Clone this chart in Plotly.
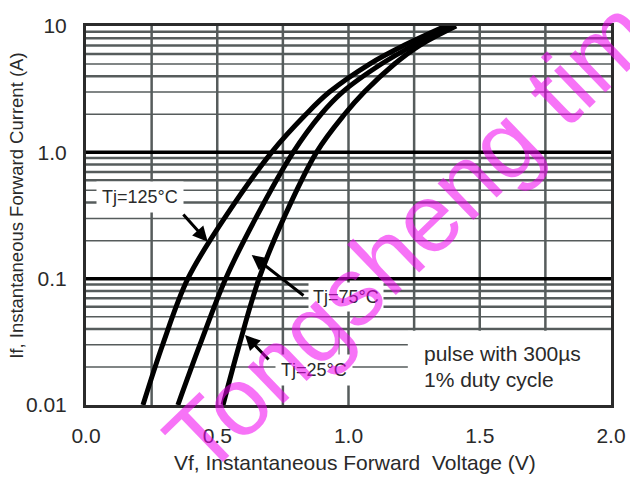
import math
import plotly.graph_objects as go

# ---------------- data ----------------
i_levels = [0.01, 0.03, 0.1, 0.3, 1.0, 2.0, 3.0, 5.0, 7.0, 10.0]
v_tj125 = [0.217, 0.292, 0.388, 0.527, 0.707, 0.838, 0.927, 1.080, 1.210, 1.370]
v_tj75 = [0.350, 0.434, 0.532, 0.646, 0.789, 0.895, 0.977, 1.125, 1.245, 1.390]
v_tj25 = [0.522, 0.584, 0.659, 0.753, 0.878, 0.985, 1.060, 1.175, 1.270, 1.410]

x_tick_vals = [0.0, 0.5, 1.0, 1.5, 2.0]
x_tick_text = ["0.0", "0.5", "1.0", "1.5", "2.0"]
y_tick_vals = [0.01, 0.1, 1.0, 10.0]
y_tick_text = ["0.01", "0.1", "1.0", "10"]

x_grid = [0.25, 0.5, 0.75, 1.0, 1.25, 1.5, 1.75]
decades = [0.01, 0.1, 1.0]
minor_mult = [2, 3, 4, 5, 6, 7, 8, 9]
thin_mult = [2, 3, 5]
major_lines = [0.1, 1.0]

FONT = "Liberation Sans, Arial, sans-serif"
TXT = "#2a2a2a"
GRID = "#565c5c"

def ypaper(v):
    return (math.log10(v) + 2.0) / 3.0

fig = go.Figure()

for vv in [v_tj125, v_tj75, v_tj25]:
    fig.add_trace(go.Scatter(
        x=vv, y=i_levels, mode="lines",
        line=dict(color="black", width=5, shape="spline", smoothing=1.0),
        showlegend=False, hoverinfo="skip"))

shapes = []
for xv in x_grid:
    shapes.append(dict(type="line", xref="x", yref="paper", x0=xv, x1=xv, y0=0, y1=1,
                       line=dict(color=GRID, width=2.5), layer="below"))
for d in decades:
    for m in minor_mult:
        v = d * m
        w = 1.5 if m in thin_mult else 2.5
        shapes.append(dict(type="line", xref="paper", yref="paper", x0=0, x1=1,
                           y0=ypaper(v), y1=ypaper(v),
                           line=dict(color=GRID, width=w), layer="below"))
for v in major_lines:
    shapes.append(dict(type="line", xref="paper", yref="paper", x0=0, x1=1,
                       y0=ypaper(v), y1=ypaper(v),
                       line=dict(color="black", width=3.5), layer="below"))
shapes.append(dict(type="rect", xref="x", yref="paper", x0=1.226, x1=2.0,
                   y0=0, y1=ypaper(0.0387), fillcolor="white",
                   line=dict(width=0), layer="below"))
shapes.append(dict(type="line", xref="x", yref="paper", x0=0.964, x1=0.964,
                   y0=ypaper(0.0155), y1=ypaper(0.0395),
                   line=dict(color=GRID, width=1), layer="below"))

annotations = []
arrows = [
    (0.4636, -0.7074, 0.3657, -0.4802),
    (0.6312, -0.8126, 0.8343, -1.1427),
    (0.6057, -1.4459, 0.7010, -1.6517),
]
for hx, hy, tx, ty in arrows:
    annotations.append(dict(x=hx, y=hy, ax=tx, ay=ty, xref="x", yref="y",
                            axref="x", ayref="y", text="", showarrow=True,
                            arrowhead=2, arrowsize=1.0, arrowwidth=3,
                            arrowcolor="black", standoff=0, startstandoff=0))
labels = [
    ("Tj=125°C", 0.2057, -0.3535, 5),
    ("Tj=75°C", 0.991, -1.149, 4),
    ("Tj=25°C", 0.8686, -1.723, 5),
]
for t, x, y, pad in labels:
    annotations.append(dict(x=x, y=y, xref="x", yref="y", text=t, showarrow=False,
                            xanchor="center", yanchor="middle",
                            font=dict(family=FONT, size=18, color=TXT),
                            bgcolor="white", borderpad=pad))
annotations.append(dict(x=1.279, y=-1.594, xref="x", yref="y", xanchor="left",
                        yanchor="middle", text="pulse with 300µs", showarrow=False,
                        font=dict(family=FONT, size=21, color=TXT)))
annotations.append(dict(x=1.279, y=-1.802, xref="x", yref="y", xanchor="left",
                        yanchor="middle", text="1% duty cycle", showarrow=False,
                        font=dict(family=FONT, size=21, color=TXT)))
annotations.append(dict(x=0.5124, y=-0.153, xref="paper", yref="paper",
                        xanchor="center", yanchor="middle",
                        text="Vf, Instantaneous Forward  Voltage (V)", showarrow=False,
                        font=dict(family=FONT, size=21, color=TXT)))
annotations.append(dict(x=-0.133, y=0.526, xref="paper", yref="paper",
                        xanchor="center", yanchor="middle",
                        text="If, Instantaneous Forward Current (A)", showarrow=False,
                        textangle=-90, font=dict(family=FONT, size=18.5, color=TXT)))
annotations.append(dict(x=0.6135, y=0.445, xref="paper", yref="paper",
                        xanchor="center", yanchor="middle",
                        text="Tongsheng tim", showarrow=False, textangle=-44,
                        font=dict(family=FONT, size=97, color="rgba(240,0,240,0.55)")))

fig.update_layout(
    width=630, height=477,
    margin=dict(l=86, r=19, t=26, b=72, autoexpand=False),
    paper_bgcolor="white", plot_bgcolor="white",
    shapes=shapes, annotations=annotations,
    showlegend=False,
    xaxis=dict(range=[0, 2], tickvals=x_tick_vals, ticktext=x_tick_text,
               showgrid=False, zeroline=False, showline=True, mirror=True,
               linecolor="#2b2b2b", linewidth=3, ticks="", automargin=False,
               tickfont=dict(family=FONT, size=21, color=TXT), ticklabelstandoff=10),
    yaxis=dict(type="log", range=[-2, 1], tickvals=y_tick_vals, ticktext=y_tick_text,
               showgrid=False, zeroline=False, showline=True, mirror=True,
               linecolor="#2b2b2b", linewidth=3, ticks="", automargin=False,
               tickfont=dict(family=FONT, size=21, color=TXT), ticklabelstandoff=12),
)

fig.write_html("out.html",
               config={"displayModeBar": False, "staticPlot": True},
               post_script="document.body.style.margin='0px';document.body.style.overflow='hidden';")
